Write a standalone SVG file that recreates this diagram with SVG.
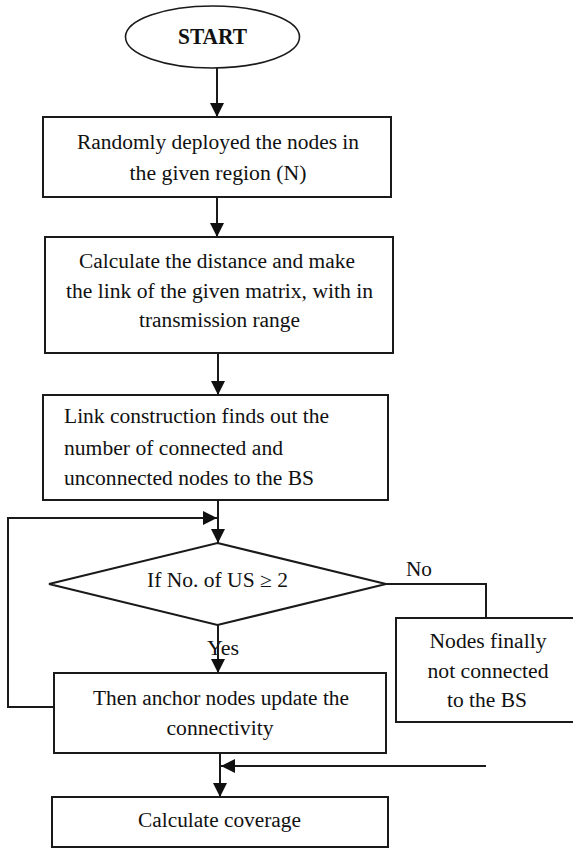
<svg xmlns="http://www.w3.org/2000/svg" width="573" height="848" viewBox="0 0 573 848">
<style>
.shape{fill:#fff;stroke:#1a1a1a;stroke-width:2}
.ell{fill:#fff;stroke:#1a1a1a;stroke-width:1.6}
.t{font-family:"Liberation Serif","Times New Roman",serif;font-size:20px;fill:#111}
.m{text-anchor:middle}
.b{font-weight:bold;font-size:23px}
.c{fill:none;stroke:#1a1a1a;stroke-width:2}
</style>
<defs>
<marker id="ah" markerUnits="userSpaceOnUse" markerWidth="14" markerHeight="14" refX="14" refY="7" orient="auto">
<path d="M0,0 L14,7 L0,14 z" fill="#111"/>
</marker>
</defs>
<rect width="573" height="848" fill="#fff"/>
<g id="start">
<ellipse class="ell" cx="212.5" cy="37" rx="87" ry="31"/>
<text class="t m b" x="212.5" y="44" textLength="69" lengthAdjust="spacingAndGlyphs">START</text>
</g>
<g id="deploy">
<rect class="shape" x="43" y="117" width="348" height="80"/>
<text class="t m" x="218" y="149" textLength="282" lengthAdjust="spacingAndGlyphs">Randomly deployed the nodes in</text>
<text class="t m" x="218" y="180" textLength="177" lengthAdjust="spacingAndGlyphs">the given region (N)</text>
</g>
<g id="distance">
<rect class="shape" x="45" y="237" width="348" height="116"/>
<text class="t m" x="217" y="268" textLength="276" lengthAdjust="spacingAndGlyphs">Calculate the distance and make</text>
<text class="t m" x="219.5" y="298" textLength="307" lengthAdjust="spacingAndGlyphs">the link of the given matrix, with in</text>
<text class="t m" x="219.5" y="327" textLength="161" lengthAdjust="spacingAndGlyphs">transmission range</text>
</g>
<g id="link">
<rect class="shape" x="43" y="395" width="345" height="105"/>
<text class="t" x="64" y="423" textLength="265" lengthAdjust="spacingAndGlyphs">Link construction finds out the</text>
<text class="t" x="64" y="455" textLength="219" lengthAdjust="spacingAndGlyphs">number of connected and</text>
<text class="t" x="64" y="485" textLength="250" lengthAdjust="spacingAndGlyphs">unconnected nodes to the BS</text>
</g>
<g id="decision">
<polygon class="shape" points="217.5,543 386,584 217.5,625 49,584"/>
<text class="t m" x="217.5" y="587" textLength="141" lengthAdjust="spacingAndGlyphs">If No. of US ≥ 2</text>
</g>
<g id="notconnected">
<rect class="shape" x="396" y="618" width="180" height="104"/>
<text class="t m" x="488" y="648" textLength="117" lengthAdjust="spacingAndGlyphs">Nodes finally</text>
<text class="t m" x="488" y="678" textLength="121" lengthAdjust="spacingAndGlyphs">not connected</text>
<text class="t m" x="487" y="707" textLength="80" lengthAdjust="spacingAndGlyphs">to the BS</text>
</g>
<g id="anchor">
<rect class="shape" x="54" y="673" width="332" height="80"/>
<text class="t m" x="221" y="705" textLength="256" lengthAdjust="spacingAndGlyphs">Then anchor nodes update the</text>
<text class="t m" x="220" y="735" textLength="107" lengthAdjust="spacingAndGlyphs">connectivity</text>
</g>
<g id="coverage">
<rect class="shape" x="52" y="797" width="336" height="50"/>
<text class="t m" x="219.5" y="827" textLength="163" lengthAdjust="spacingAndGlyphs">Calculate coverage</text>
</g>
<g id="connectors">
<text class="t" x="406" y="576" textLength="26" lengthAdjust="spacingAndGlyphs">No</text>
<text class="t" x="207" y="655" textLength="32" lengthAdjust="spacingAndGlyphs">Yes</text>
<path class="c" d="M217,68 V117" marker-end="url(#ah)"/>
<path class="c" d="M217,197 V237" marker-end="url(#ah)"/>
<path class="c" d="M218,353 V395" marker-end="url(#ah)"/>
<path class="c" d="M218,500 V543" marker-end="url(#ah)"/>
<path class="c" d="M54,707 H8 V518 H217" marker-end="url(#ah)"/>
<path class="c" d="M386,584 H486 V618"/>
<path class="c" d="M218,625 V673" marker-end="url(#ah)"/>
<path class="c" d="M220,753 V797" marker-end="url(#ah)"/>
<path class="c" d="M486,766 H221" marker-end="url(#ah)"/>
</g>
</svg>
